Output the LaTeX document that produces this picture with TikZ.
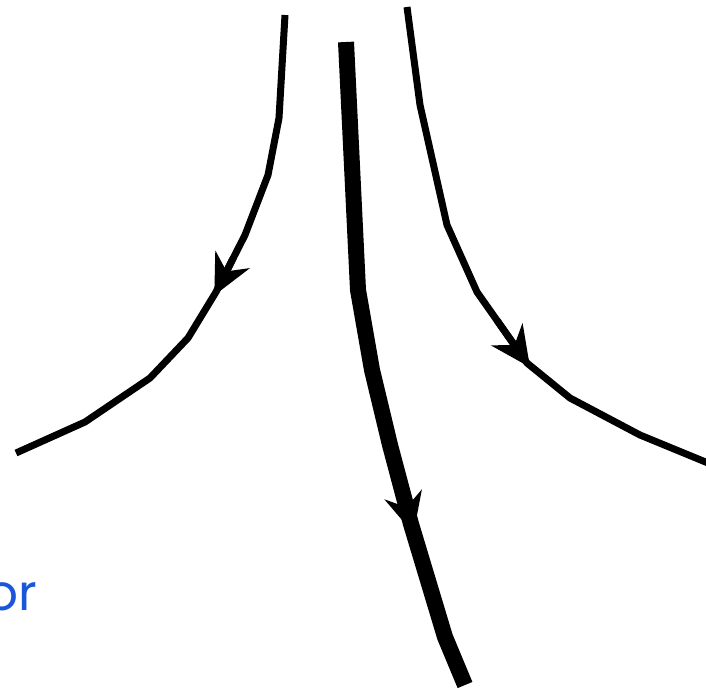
\documentclass[tikz,border=0pt]{standalone}
\usepackage{fontspec}
\newfontfamily\labelfont{Poppins}
\usetikzlibrary{arrows.meta, calc}
\definecolor{linkblue}{RGB}{26,86,219}
\begin{document}
\begin{tikzpicture}[x=1pt, y=-1pt, line cap=butt, line join=miter,
    thin stream/.style={line width=7pt},
    thick stream/.style={line width=16pt},
    flow tip/.style={-{Stealth[length=40pt, width=38pt, inset=13pt]}}]

    \useasboundingbox (0,0) rectangle (706,689);
    \clip (0,0) rectangle (706,689);

    % ------------------------------------------------------------------
    % 1. Left stream line
    % ------------------------------------------------------------------
    \coordinate (l1) at (285,15);
    \coordinate (l2) at (279,118);
    \coordinate (l3) at (268,175);
    \coordinate (l4) at (245,235);
    \coordinate (la) at (216,292);
    \coordinate (l5) at (188,338);
    \coordinate (l6) at (150,378);
    \coordinate (l7) at (85,422);
    \coordinate (l8) at (16,453);
    \draw[thin stream] (l1) -- (l2) -- (l3) -- (l4) -- (la)
        -- (l5) -- (l6) -- (l7) -- (l8);
    \draw[thin stream, flow tip] ($(l4)!0.4!(la)$) -- ($(l4)!1.06!(la)$);

    % ------------------------------------------------------------------
    % 2. Middle stream line (thick)
    % ------------------------------------------------------------------
    \coordinate (m1) at (346,42);
    \coordinate (m2) at (358,290);
    \coordinate (m3) at (372,370);
    \coordinate (m4) at (390,445);
    \coordinate (ma) at (411,524);
    \coordinate (m5) at (445,637);
    \coordinate (m6) at (465,685);
    \draw[thick stream] (m1) -- (m2) -- (m3) -- (m4) -- (ma)
        -- (m5) -- (m6);
    \draw[thin stream, flow tip] ($(m4)!0.4!(ma)$) -- ($(m4)!1.12!(ma)$);

    % ------------------------------------------------------------------
    % 3. Right stream line
    % ------------------------------------------------------------------
    \coordinate (r1) at (407,7);
    \coordinate (r2) at (420,105);
    \coordinate (r3) at (447,225);
    \coordinate (r4) at (477,292);
    \coordinate (ra) at (527,363);
    \coordinate (r5) at (570,398);
    \coordinate (r6) at (640,435);
    \coordinate (r7) at (708,463);
    \draw[thin stream] (r1) -- (r2) -- (r3) -- (r4) -- (ra)
        -- (r5) -- (r6) -- (r7);
    \draw[thin stream, flow tip] ($(r4)!0.4!(ra)$) -- ($(r4)!1.06!(ra)$);

    % ------------------------------------------------------------------
    % 4. Cut-off label
    % ------------------------------------------------------------------
    \node[text=linkblue, font=\labelfont\fontsize{50}{60}\selectfont,
        anchor=base west, inner sep=0pt] (orlabel) at (-14,610) {or};

\end{tikzpicture}
\end{document}
